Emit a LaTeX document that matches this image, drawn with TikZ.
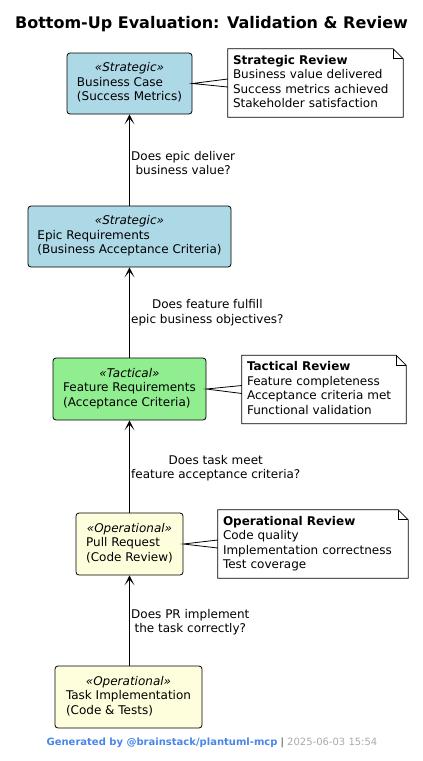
\documentclass[tikz,border=0pt]{standalone}
\usepackage{fontspec}
\setmainfont{DejaVu Sans}
\usetikzlibrary{arrows.meta}
\definecolor{stratblue}{HTML}{ADD8E6}
\definecolor{tactgreen}{HTML}{90EE90}
\definecolor{operyellow}{HTML}{FEFEDC}
\definecolor{genblue}{HTML}{4A86E8}
\definecolor{sepgray}{HTML}{444444}
\definecolor{dategray}{HTML}{AAAAAA}
\newcommand\boxtext[3]{\begin{tabular}{@{}l@{}}\multicolumn{1}{@{}c@{}}{\itshape «#1»}\\#2\\#3\end{tabular}}
\newcommand\notetext[4]{\begin{tabular}{@{}l@{}}\textbf{#1}\\#2\\#3\\#4\end{tabular}}
\begin{document}
\begin{tikzpicture}[x=1pt,y=-1pt,
  font=\fontsize{12}{14.5}\selectfont,
  box/.style={draw, rounded corners=3pt, line width=0.8pt, inner sep=0pt, align=center},
  note/.style={inner sep=5pt, anchor=center},
  notefold/.style={draw, line width=0.8pt},
  wedge/.style={line width=0.8pt},
  arr/.style={-{Stealth[length=10pt,width=10pt,inset=6pt]}, line width=0.8pt},
  lbl/.style={anchor=west, align=center, xshift=-2pt}]
\useasboundingbox (0,0) rectangle (423,761);

\node[font=\fontsize{16}{19}\selectfont\bfseries] (title) at (211.5,24.5) {Bottom-Up Evaluation: Validation \& Review};

% boxes
\node[box, fill=stratblue, minimum width=125pt, minimum height=61pt] (bc) at (129.5,83.5) {\boxtext{Strategic}{Business Case}{(Success Metrics)}};
\node[box, fill=stratblue, minimum width=203pt, minimum height=61pt] (ep) at (129.5,236.5) {\boxtext{Strategic}{Epic Requirements}{(Business Acceptance Criteria)}};
\node[box, fill=tactgreen, minimum width=153pt, minimum height=62pt] (fr) at (129.5,389) {\boxtext{Tactical}{Feature Requirements}{(Acceptance Criteria)}};
\node[box, fill=operyellow, minimum width=107pt, minimum height=62pt] (pr) at (129.5,544) {\boxtext{Operational}{Pull Request}{(Code Review)}};
\node[box, fill=operyellow, minimum width=147pt, minimum height=62pt] (ti) at (128.5,697) {\boxtext{Operational}{Task Implementation}{(Code \& Tests)}};

% notes
\node[note, minimum width=175pt, minimum height=66pt, text width=165pt] (n1) at (315.5,83) {\notetext{Strategic Review}{Business value delivered}{Success metrics achieved}{Stakeholder satisfaction}};
\node[note, minimum width=164pt, minimum height=65pt, text width=154pt] (n3) at (324,389.5) {\notetext{Tactical Review}{Feature completeness}{Acceptance criteria met}{Functional validation}};
\node[note, minimum width=190pt, minimum height=66pt, text width=180pt] (n4) at (313,544) {\notetext{Operational Review}{Code quality}{Implementation correctness}{Test coverage}};

\foreach \n in {n1,n3,n4}{
  \draw[notefold] (\n.north west) -- ([xshift=-10pt]\n.north east) -- ([yshift=-10pt]\n.north east) -- (\n.south east) -- (\n.south west) -- cycle;
  \draw[notefold] ([xshift=-10pt]\n.north east) -- ([xshift=-10pt,yshift=-10pt]\n.north east) -- ([yshift=-10pt]\n.north east);
}

% wedges from boxes to notes
\draw[wedge] ([yshift=4pt]n1.west) -- (bc.east) -- ([yshift=-4pt]n1.west);
\draw[wedge] ([yshift=4pt]n3.west) -- (fr.east) -- ([yshift=-4pt]n3.west);
\draw[wedge] ([yshift=4pt]n4.west) -- (pr.east) -- ([yshift=-4pt]n4.west);

% arrows
\draw[arr] (ep.north -| bc.south) -- (bc.south) node[midway, lbl, yshift=-3pt] {Does epic deliver\\business value?};
\draw[arr] (fr.north -| ep.south) -- (ep.south) node[midway, lbl] {Does feature fulfill\\epic business objectives?};
\draw[arr] (pr.north -| fr.south) -- (fr.south) node[midway, lbl, yshift=-1.5pt] {Does task meet\\feature acceptance criteria?};
\draw[arr] (ti.north -| pr.south) -- (pr.south) node[midway, lbl, yshift=-1.5pt] {Does PR implement\\the task correctly?};

% footer
\node[font=\fontsize{10}{12}\selectfont] (footer) at (212,743) {\textcolor{genblue}{\bfseries Generated by @brainstack/plantuml-mcp} \textcolor{sepgray}{|} \textcolor{dategray}{2025-06-03 15:54}};
\end{tikzpicture}
\end{document}
